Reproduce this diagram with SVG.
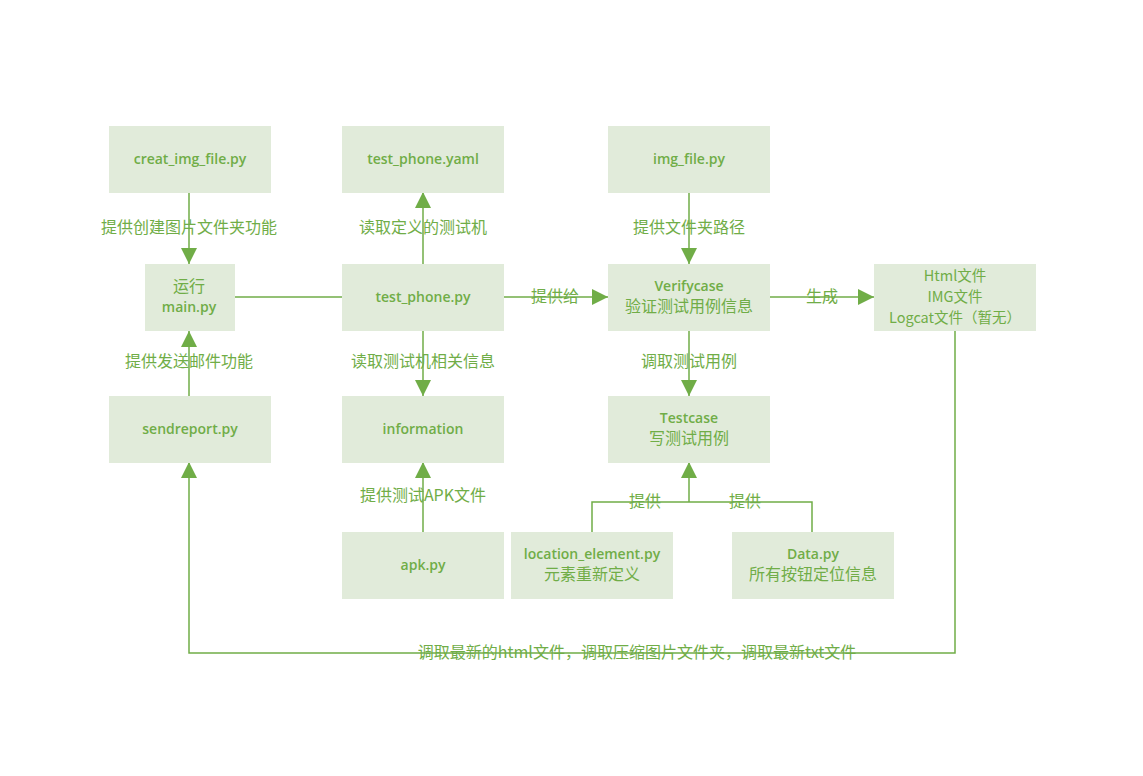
<svg xmlns="http://www.w3.org/2000/svg" width="1143" height="776" viewBox="0 0 1143 776">
<style>
.box{fill:#e1ebda;}
.en{font-family:"Open Sans","Liberation Sans","Noto Sans CJK SC",sans-serif;font-size:14px;font-weight:600;fill:#70ad47;text-anchor:middle;}
.cn{font-family:"Noto Sans CJK SC",sans-serif;font-size:16px;fill:#70ad47;text-anchor:middle;}
.sm{font-size:14.5px;}
.ln{stroke:#70ad47;stroke-width:1.5;fill:none;}
</style>
<defs>
<marker id="arr" viewBox="0 0 16 16" refX="16" refY="8" markerWidth="16" markerHeight="16" markerUnits="userSpaceOnUse" orient="auto">
<path d="M0,0 L16,8 L0,16 Z" fill="#70ad47"/>
</marker>
</defs>
<rect width="1143" height="776" fill="#ffffff"/>
<g id="connectors">
<line class="ln" x1="189" y1="192" x2="189" y2="264" marker-end="url(#arr)"/>
<line class="ln" x1="189" y1="396" x2="189" y2="331" marker-end="url(#arr)"/>
<line class="ln" x1="234" y1="297" x2="342" y2="297"/>
<line class="ln" x1="423" y1="264" x2="423" y2="192" marker-end="url(#arr)"/>
<line class="ln" x1="423" y1="331" x2="423" y2="396" marker-end="url(#arr)"/>
<line class="ln" x1="423" y1="532" x2="423" y2="462" marker-end="url(#arr)"/>
<line class="ln" x1="504" y1="297" x2="608" y2="297" marker-end="url(#arr)"/>
<line class="ln" x1="689" y1="192" x2="689" y2="264" marker-end="url(#arr)"/>
<line class="ln" x1="770" y1="297" x2="874" y2="297" marker-end="url(#arr)"/>
<line class="ln" x1="689" y1="331" x2="689" y2="396" marker-end="url(#arr)"/>
<polyline class="ln" points="592,532 592,502 812,502 812,532"/>
<line class="ln" x1="689" y1="502" x2="689" y2="462" marker-end="url(#arr)"/>
<polyline class="ln" points="955,331 955,653 189,653 189,462" marker-end="url(#arr)"/>
<text class="cn" x="189" y="233">提供创建图片文件夹功能</text>
<text class="cn" x="189" y="367">提供发送邮件功能</text>
<text class="cn" x="423" y="233">读取定义的测试机</text>
<text class="cn" x="423" y="367">读取测试机相关信息</text>
<text class="cn" x="423" y="501">提供测试APK文件</text>
<text class="cn" x="555" y="302">提供给</text>
<text class="cn" x="689" y="233">提供文件夹路径</text>
<text class="cn" x="822" y="302">生成</text>
<text class="cn" x="689" y="367">调取测试用例</text>
<text class="cn" x="645" y="507">提供</text>
<text class="cn" x="745" y="507">提供</text>
<text class="cn" x="637" y="658">调取最新的html文件，调取压缩图片文件夹，调取最新txt文件</text>
</g>
<g id="creat_img_file">
<rect class="box" x="109" y="126" width="162" height="67"/>
<text class="en" x="190" y="164">creat_img_file.py</text>
</g>
<g id="test_phone_yaml">
<rect class="box" x="342" y="126" width="162" height="67"/>
<text class="en" x="423" y="164">test_phone.yaml</text>
</g>
<g id="img_file">
<rect class="box" x="608" y="126" width="162" height="67"/>
<text class="en" x="689" y="164">img_file.py</text>
</g>
<g id="main">
<rect class="box" x="145" y="264" width="90" height="67"/>
<text class="cn" x="189" y="292">运行</text>
<text class="en" x="189" y="312">main.py</text>
</g>
<g id="test_phone">
<rect class="box" x="342" y="264" width="162" height="67"/>
<text class="en" x="423" y="302">test_phone.py</text>
</g>
<g id="verifycase">
<rect class="box" x="608" y="264" width="162" height="67"/>
<text class="en" x="689" y="291">Verifycase</text>
<text class="cn" x="689" y="312">验证测试用例信息</text>
</g>
<g id="output">
<rect class="box" x="874" y="264" width="162" height="67"/>
<text class="cn sm" x="955" y="281">Html文件</text>
<text class="cn sm" x="955" y="302">IMG文件</text>
<text class="cn sm" x="955" y="323">Logcat文件（暂无）</text>
</g>
<g id="sendreport">
<rect class="box" x="109" y="396" width="162" height="67"/>
<text class="en" x="190" y="434">sendreport.py</text>
</g>
<g id="information">
<rect class="box" x="342" y="396" width="162" height="67"/>
<text class="en" x="423" y="434">information</text>
</g>
<g id="testcase">
<rect class="box" x="608" y="396" width="162" height="67"/>
<text class="en" x="689" y="423">Testcase</text>
<text class="cn" x="689" y="444">写测试用例</text>
</g>
<g id="apk">
<rect class="box" x="342" y="532" width="162" height="67"/>
<text class="en" x="423" y="570">apk.py</text>
</g>
<g id="location_element">
<rect class="box" x="511" y="532" width="162" height="67"/>
<text class="en" x="592" y="559">location_element.py</text>
<text class="cn" x="592" y="580">元素重新定义</text>
</g>
<g id="data">
<rect class="box" x="732" y="532" width="162" height="67"/>
<text class="en" x="813" y="559">Data.py</text>
<text class="cn" x="813" y="580">所有按钮定位信息</text>
</g>
</svg>
